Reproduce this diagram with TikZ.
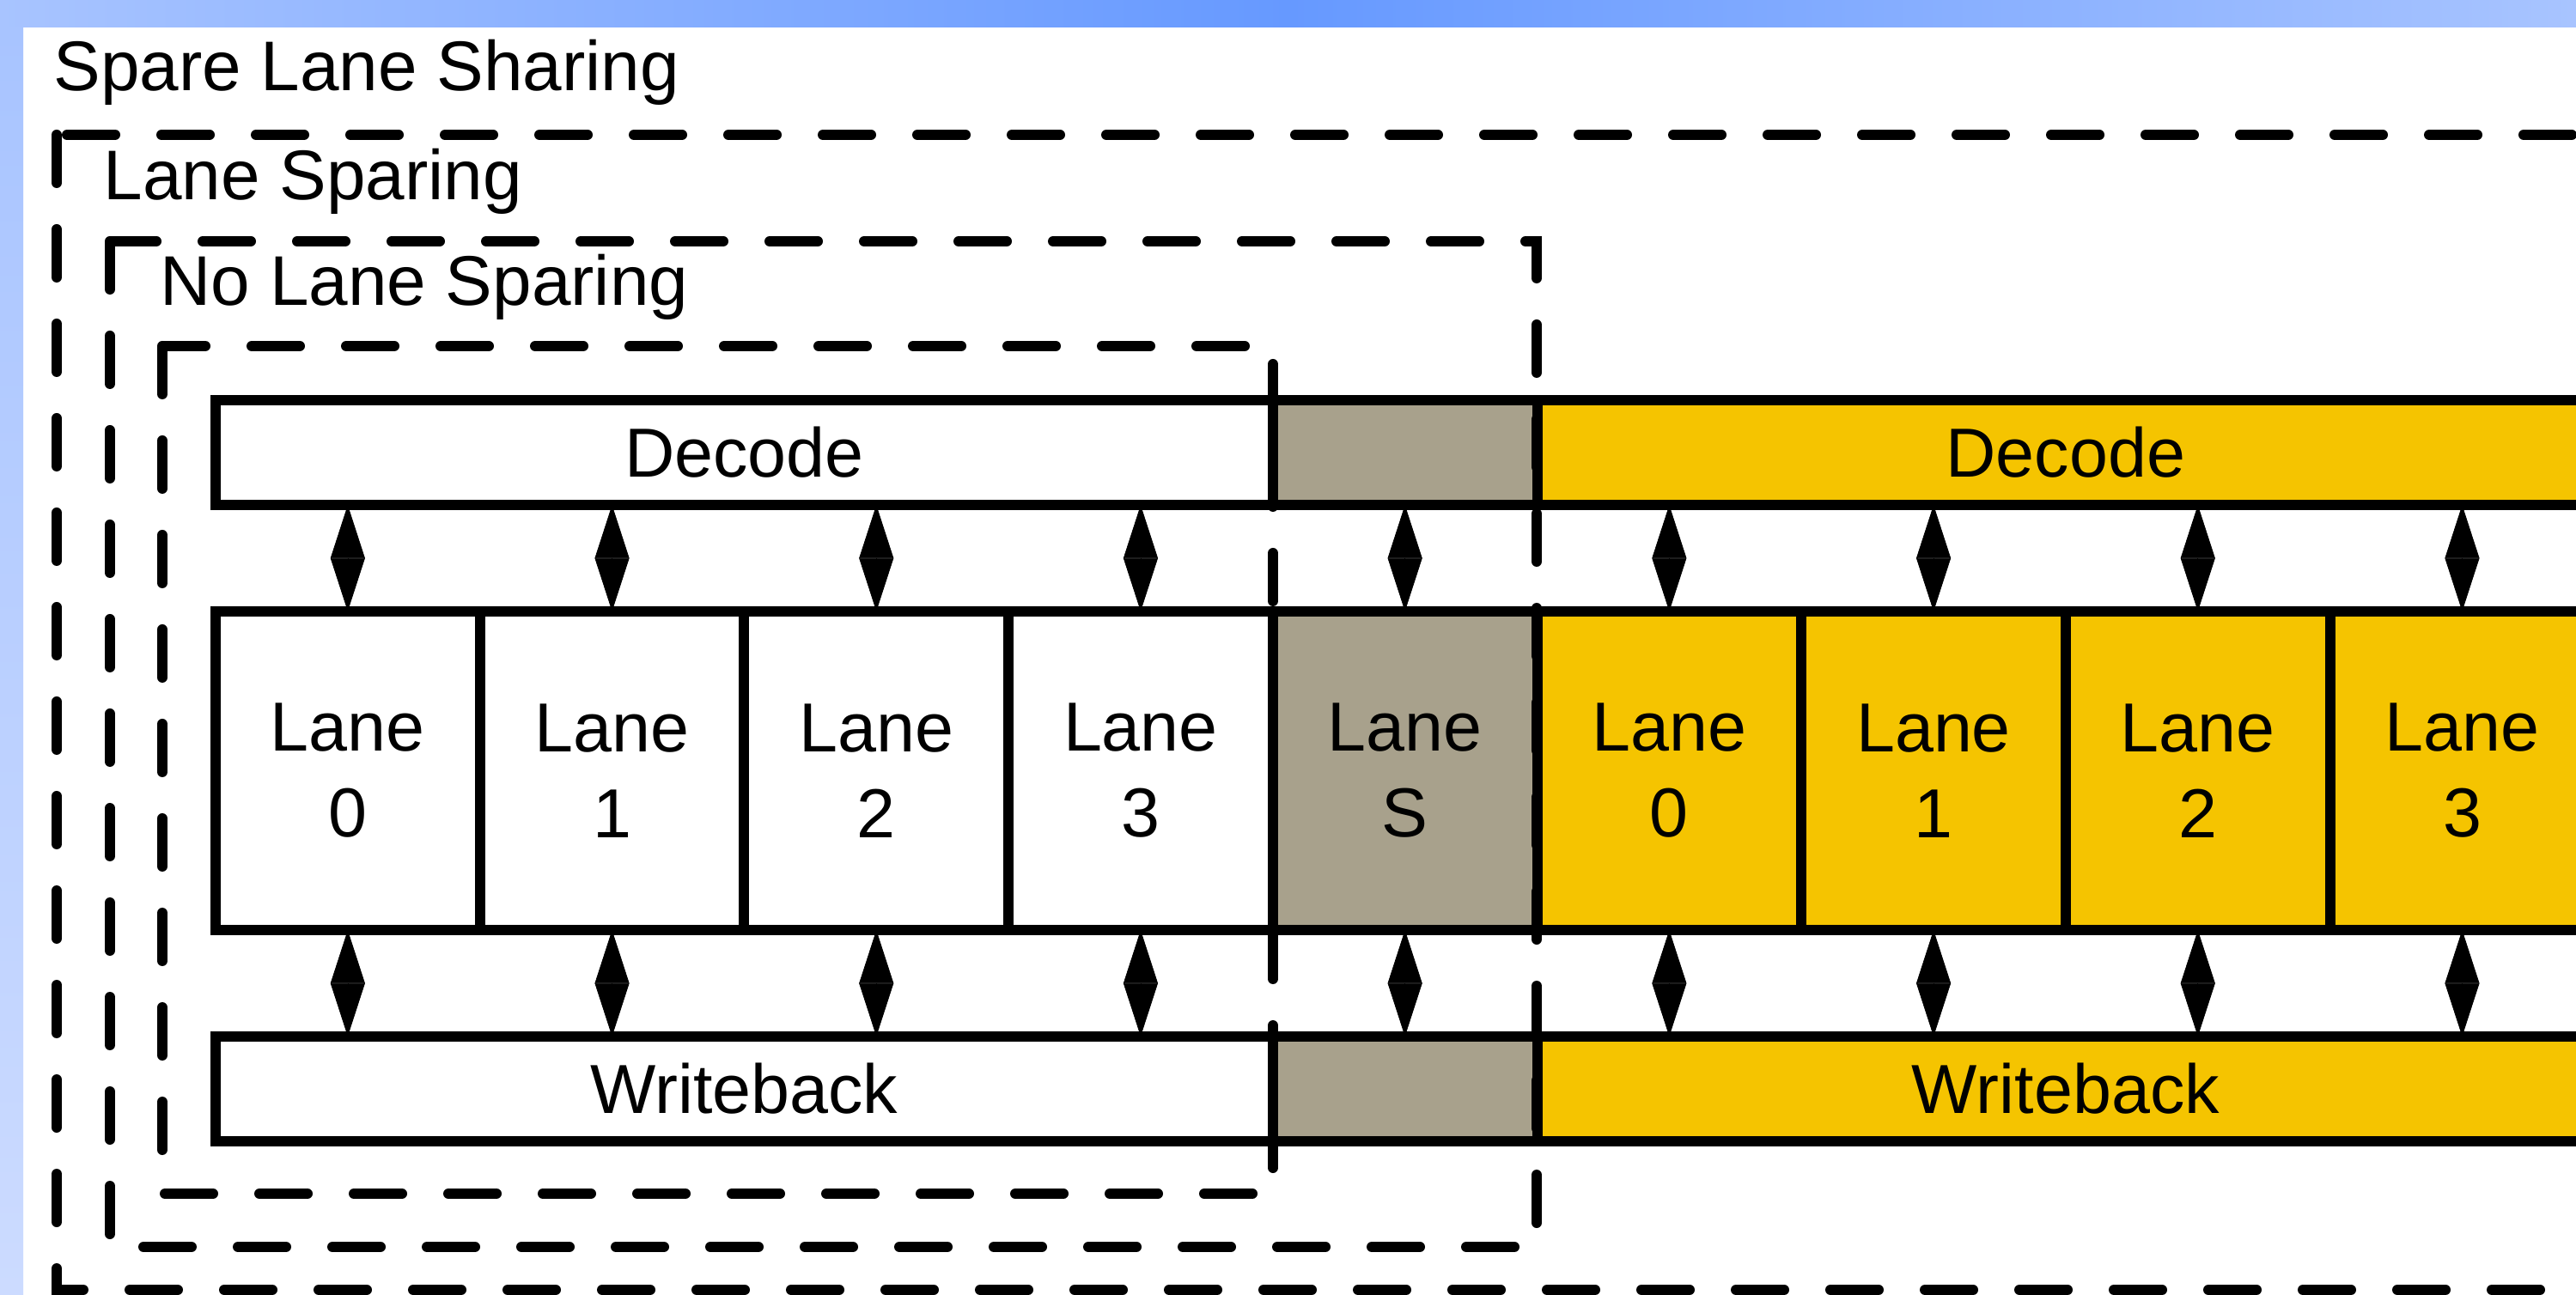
\documentclass[tikz,border=0pt]{standalone}
\usepackage{fontspec}
\setsansfont{Liberation Sans}
\usepackage{xcolor}
\definecolor{slideBlueLight}{HTML}{A8C4FF}
\definecolor{slideBlueDark}{HTML}{6699FF}
\definecolor{slideBluePale}{HTML}{CCDBFF}
\definecolor{spareGray}{HTML}{A8A18C}
\definecolor{shareYellow}{HTML}{F5C400}
\usepackage{tikz}
\usetikzlibrary{arrows.meta,positioning,calc}
\tikzset{
    lane/.style={
        draw=black,
        fill=white,
        rectangle,
        line width=1.2mm,
        outer sep=0pt,
        inner sep=0pt,
        align=center,
        minimum width=3.077cm,
        minimum height=3.71cm,
        font=\fontsize{23}{28.5}\selectfont\sffamily
    },
    stage/.style={
        draw=black,
        fill=white,
        rectangle,
        line width=1.2mm,
        outer sep=0pt,
        inner sep=0pt,
        minimum height=1.22cm,
        font=\fontsize{23}{28.5}\selectfont\sffamily
    },
    link/.style={
        {Triangle[length=6.2mm,width=4mm]}-{Triangle[length=6.2mm,width=4mm]},
        line width=0.2pt,
        black
    },
    region/.style={
        draw=black,
        line width=1.2mm,
        line cap=round,
        dash pattern=on 5.6mm off 5.4mm
    },
    boxtitle/.style={
        anchor=base west,
        inner sep=0pt,
        font=\fontsize{23.3}{28.5}\selectfont\sffamily
    }
}

\begin{document}
\begin{tikzpicture}
    \useasboundingbox (0,0) rectangle (29.99,-15.08);
    \clip (0,0) rectangle (29.99,-15.08);
    % slide background
    \fill[white] (0,0) rectangle (29.99,-15.08);
    \shade[left color=slideBlueLight, right color=slideBlueLight, middle color=slideBlueDark] (0,0) rectangle (29.99,-0.32);
    \shade[top color=slideBlueLight, bottom color=slideBluePale] (0,-0.32) rectangle (0.27,-15.08);

    % lanes
    \node[lane, anchor=north west] (l0) at (2.51,-7.12) {Lane\\0};
    \node[lane, right=0pt of l0] (l1) {Lane\\1};
    \node[lane, right=0pt of l1] (l2) {Lane\\2};
    \node[lane, right=0pt of l2] (l3) {Lane\\3};
    \node[lane, fill=spareGray, right=0pt of l3] (l4) {Lane\\S};
    \node[lane, fill=shareYellow, right=0pt of l4] (l5) {Lane\\0};
    \node[lane, fill=shareYellow, right=0pt of l5] (l6) {Lane\\1};
    \node[lane, fill=shareYellow, right=0pt of l6] (l7) {Lane\\2};
    \node[lane, fill=shareYellow, right=0pt of l7] (l8) {Lane\\3};

    % decode
    \node[stage, minimum width=12.308cm, above=1.24cm of l0.north west, anchor=south west] (decW) {Decode};
    \node[stage, fill=spareGray, minimum width=3.077cm, right=0pt of decW] (decS) {};
    \node[stage, fill=shareYellow, minimum width=12.308cm, right=0pt of decS] (decY) {Decode};

    % writeback
    \node[stage, minimum width=12.308cm, below=1.24cm of l0.south west, anchor=north west] (wbW) {Writeback};
    \node[stage, fill=spareGray, minimum width=3.077cm, right=0pt of wbW] (wbS) {};
    \node[stage, fill=shareYellow, minimum width=12.308cm, right=0pt of wbS] (wbY) {Writeback};

    \foreach \i in {0,...,8} {
        \draw[link] (l\i.north |- decW.south) -- (l\i.north);
        \draw[link] (l\i.south) -- (l\i.south |- wbW.north);
    }

    % sparing regions
    \draw[region] (0.66,-1.57) rectangle (31,-15.02);
    \draw[region] (1.28,-2.81) rectangle (17.89,-14.52);
    \draw[region] (1.89,-4.03) rectangle (14.82,-13.90);
    \node[boxtitle] (tShare) at (0.62,-1.06) {Spare Lane Sharing};
    \node[boxtitle] (tSpare) at (1.20,-2.33) {Lane Sparing};
    \node[boxtitle] (tNone) at (1.86,-3.56) {No Lane Sparing};
\end{tikzpicture}
\end{document}
